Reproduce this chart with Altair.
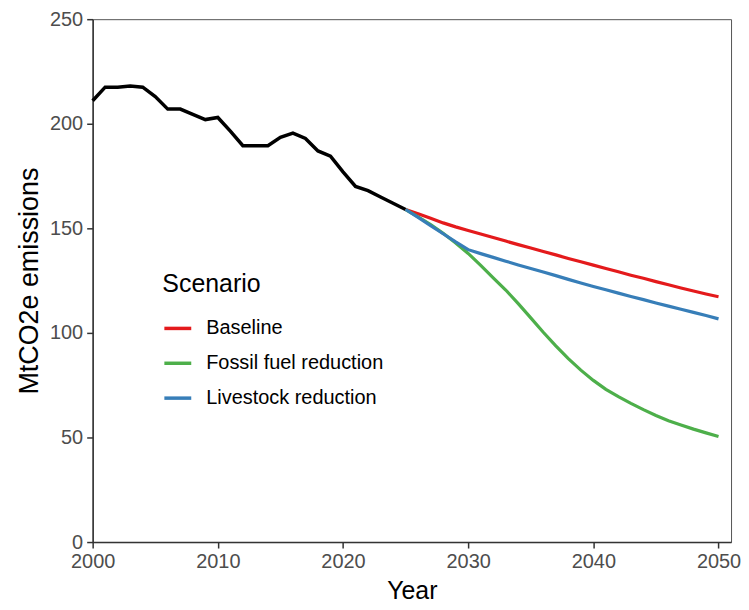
import altair as alt
import pandas as pd

hist_years = list(range(2000, 2026))
hist_values = [211, 217.5, 217.5, 218, 217.5, 213, 207, 207, 204.5, 202, 203,
               196.5, 189.5, 189.5, 189.5, 193.5, 195.5, 193, 187, 184.5, 177,
               170, 168, 165, 162, 159]

proj_years = list(range(2025, 2051))
baseline = [159, 157, 154.8, 152.6, 150.7, 149, 147.3, 145.6, 143.9, 142.2, 140.6,
            138.9, 137.3, 135.6, 134, 132.4, 130.8, 129.2, 127.6, 126.1, 124.5,
            123, 121.5, 120, 118.6, 117.3]
fossil = [159, 155.5, 151.8, 147.6, 143, 138, 132.3, 126.3, 120.5, 114, 107.2,
          100.3, 93.8, 87.7, 82.2, 77.3, 73, 69.5, 66.3, 63.3, 60.5,
          58, 56, 54, 52.2, 50.5]
livestock = [159, 155.2, 151.3, 147.4, 143.5, 139.8, 137.9, 136.1, 134.3, 132.5, 130.8,
             129.1, 127.4, 125.6, 123.9, 122.2, 120.6, 119, 117.4, 115.9, 114.3,
             112.8, 111.3, 109.8, 108.3, 106.7]

scenarios = ["Baseline", "Fossil fuel reduction", "Livestock reduction"]
colors = ["#E41A1C", "#4DAF4A", "#377EB8"]

hist_df = pd.DataFrame({"Year": hist_years, "Emissions": hist_values})
rows = []
for name, vals in zip(scenarios, [baseline, fossil, livestock]):
    for y, v in zip(proj_years, vals):
        rows.append({"Year": y, "Emissions": v, "Scenario": name})
proj_df = pd.DataFrame(rows)

font = "Liberation Sans"

x = alt.X("Year:Q", scale=alt.Scale(domain=[2000, 2051], nice=False, zero=False),
          axis=alt.Axis(values=[2000, 2010, 2020, 2030, 2040, 2050], format="d",
                        title="Year", grid=False, labelFlush=False))
y = alt.Y("Emissions:Q", scale=alt.Scale(domain=[0, 250], nice=False),
          axis=alt.Axis(values=[0, 50, 100, 150, 200, 250], title="MtCO2e emissions",
                        grid=False, labelFlush=False))

hist = alt.Chart(hist_df).mark_line(color="black", strokeWidth=3.5).encode(x=x, y=y)

proj = alt.Chart(proj_df).mark_line(strokeWidth=3.2).encode(
    x=x, y=y,
    color=alt.Color("Scenario:N",
                    scale=alt.Scale(domain=scenarios, range=colors),
                    legend=alt.Legend(orient="none", legendX=70, legendY=254,
                                      title="Scenario", symbolType="stroke",
                                      symbolSize=729, symbolStrokeWidth=3.5,
                                      titleFontSize=25, titleFontWeight="normal",
                                      titleColor="#000", titleFont=font,
                                      titlePadding=16, titleLimit=0,
                                      labelFontSize=20, labelFont=font,
                                      labelColor="#000", labelOffset=13,
                                      labelLimit=0, rowPadding=9))
)

chart = alt.layer(hist, proj).properties(
    width=641, height=525,
    autosize=alt.AutoSizeParams(type="none"),
    padding={"left": 85, "top": 10, "right": 10, "bottom": 66},
).configure_view(
    stroke="#555", strokeWidth=1
).configure_axis(
    labelFont=font, titleFont=font, labelFontSize=20, titleFontSize=25,
    labelColor="#4D4D4D", titleColor="#000", titleFontWeight="normal",
    domainColor="#333", domainWidth=1.5, tickColor="#333", tickWidth=1.5,
    tickSize=6, labelPadding=4
).configure_axisY(
    titlePadding=6, titleFontSize=27
).configure_axisX(
    titlePadding=7
)

chart.save("out.html", embed_options={"renderer": "svg", "actions": False})
